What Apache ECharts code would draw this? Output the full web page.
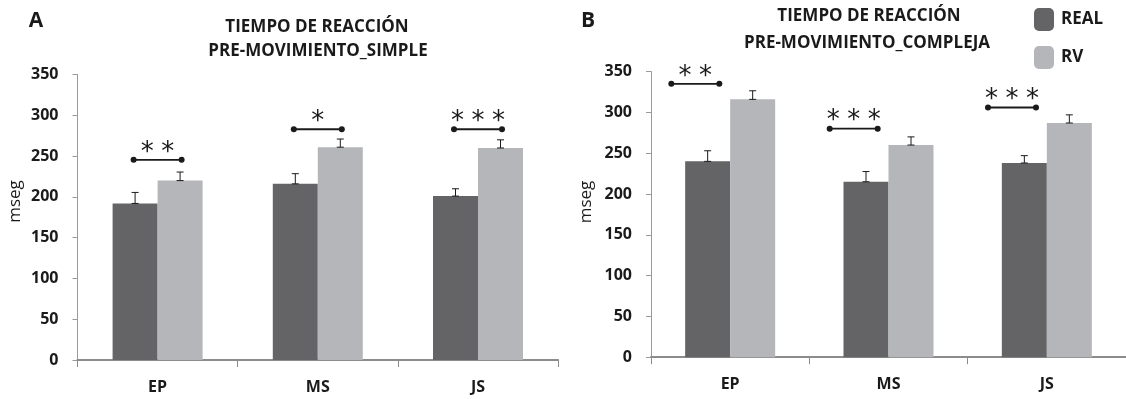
<!DOCTYPE html>
<html>
<head>
<meta charset="utf-8">
<script src="https://cdn.jsdelivr.net/npm/echarts@6/dist/echarts.min.js"></script>
<style>
  html, body { margin: 0; padding: 0; background: #fff; }
  #chart { width: 1126px; height: 399px; }
</style>
</head>
<body>
<div id="chart"></div>
<script>
// Reaction time (mseg), pre-movement phase, real vs virtual reality (RV)
const categories = ['EP', 'MS', 'JS'];

// Panel A: simple task
const simpleReal = [192, 216, 201];
const simpleRealErr = [13.5, 12.5, 9];
const simpleRV = [220, 261, 260];
const simpleRVErr = [10.5, 10, 10];
const simpleSigLevel = [245.5, 283, 283];
const simpleSigStars = [2, 1, 3];

// Panel B: complex task
const complexReal = [240, 215, 238];
const complexRealErr = [13, 12.5, 9];
const complexRV = [316, 260, 287];
const complexRVErr = [10.5, 10, 10];
const complexSigLevel = [335, 280, 306];
const complexSigStars = [2, 3, 3];

const yTicks = { min: 0, max: 350, interval: 50 };

const DARK = '#646366';
const LIGHT = '#b5b6b9';
const INK = '#1a1a1a';
const AXIS = '#8c8c8c';
const FONT = '"Open Sans"';
const BAR_W = 45;

const chart = echarts.init(document.getElementById('chart'));

function xAxisFor(idx) {
  return {
    type: 'category', gridIndex: idx, data: categories,
    axisLine: { lineStyle: { color: AXIS, width: 2 } },
    axisTick: { show: true, length: 7, lineStyle: { color: AXIS, width: 1 } },
    axisLabel: { margin: 19, color: INK, fontFamily: FONT, fontWeight: 'bold', fontSize: 16 }
  };
}
function yAxisFor(idx) {
  return {
    type: 'value', gridIndex: idx, min: yTicks.min, max: yTicks.max, interval: yTicks.interval,
    axisLine: { show: true, lineStyle: { color: '#9a9a9a', width: 1 } },
    axisTick: { show: true, length: 5, lineStyle: { color: '#9a9a9a', width: 1 } },
    splitLine: { show: false },
    axisLabel: { margin: 19, color: INK, fontFamily: FONT, fontWeight: 'bold', fontSize: 16 }
  };
}

// upward-only error bar drawn at the centre of a bar (side -1 = left bar, +1 = right bar)
function errorBars(values, errs, side, idx) {
  return {
    type: 'custom', xAxisIndex: idx, yAxisIndex: idx, z: 5, clip: false,
    silent: true, tooltip: { show: false },
    data: values.map((v, i) => [i, v, errs[i]]),
    renderItem(params, api) {
      const base = api.coord([api.value(0), api.value(1)]);
      const top = api.coord([api.value(0), api.value(1) + api.value(2)]);
      const x = base[0] + side * BAR_W / 2;
      const st = { stroke: INK, lineWidth: 1 };
      return {
        type: 'group',
        children: [
          { type: 'line', shape: { x1: x, y1: base[1], x2: x, y2: top[1] }, style: st },
          { type: 'line', shape: { x1: x - 3.5, y1: top[1], x2: x + 3.5, y2: top[1] }, style: st },
          { type: 'line', shape: { x1: x - 3.5, y1: base[1], x2: x + 3.5, y2: base[1] }, style: st }
        ]
      };
    }
  };
}

// significance bracket: dotted-end line with asterisks above it
function sigBrackets(levels, stars, shiftFrac, idx) {
  return {
    type: 'custom', xAxisIndex: idx, yAxisIndex: idx, z: 6, clip: false,
    silent: true, tooltip: { show: false },
    data: levels.map((v, i) => [i, v, stars[i]]),
    renderItem(params, api) {
      const p = api.coord([api.value(0), api.value(1)]);
      const w = api.size([1, 0])[0];
      const cx = p[0] + shiftFrac * w;
      const y = p[1];
      const n = api.value(2);
      const kids = [
        { type: 'line', shape: { x1: cx - 24, y1: y, x2: cx + 24, y2: y }, style: { stroke: INK, lineWidth: 1.8 } },
        { type: 'circle', shape: { cx: cx - 24, cy: y, r: 3 }, style: { fill: INK } },
        { type: 'circle', shape: { cx: cx + 24, cy: y, r: 3 }, style: { fill: INK } }
      ];
      for (let k = 0; k < n; k++) {
        kids.push({
          type: 'text', x: cx + (k - (n - 1) / 2) * 20.5, y: y - 7,
          style: { text: '*', fill: INK, font: '26px "DejaVu Sans"', align: 'center', verticalAlign: 'middle' }
        });
      }
      return { type: 'group', children: kids };
    }
  };
}

function bars(name, values, color, idx) {
  return {
    name, type: 'bar', xAxisIndex: idx, yAxisIndex: idx,
    data: values, barWidth: BAR_W, barGap: '0%',
    itemStyle: { color }, z: 2
  };
}

function label(text, x, y, font, rot) {
  return {
    type: 'text', x, y, rotation: rot || 0,
    style: { text, fill: INK, font, align: 'center', verticalAlign: 'middle' }
  };
}

chart.setOption({
  animation: false,
  backgroundColor: '#ffffff',
  grid: [
    { left: 77.5, top: 74.6, width: 480.6, height: 285.4 },
    { left: 651, top: 71.6, width: 480, height: 285.6 }
  ],
  xAxis: [xAxisFor(0), xAxisFor(1)],
  yAxis: [yAxisFor(0), yAxisFor(1)],
  legend: {
    data: ['REAL', 'RV'], orient: 'vertical', left: 1029, top: 3,
    icon: 'roundRect', itemWidth: 20, itemHeight: 23, itemGap: 15,
    textStyle: { color: INK, fontFamily: FONT, fontWeight: 'bold', fontSize: 17, padding: [0, 0, 0, 2] }
  },
  graphic: [
    label('A', 36, 21, 'bold 21px ' + FONT),
    label('B', 588, 21, 'bold 21px ' + FONT),
    label('TIEMPO DE REACCIÓN', 317, 27, 'bold 17px ' + FONT),
    label('PRE-MOVIMIENTO_SIMPLE', 318, 51.5, 'bold 17px ' + FONT),
    label('TIEMPO DE REACCIÓN', 869, 16.5, 'bold 17px ' + FONT),
    label('PRE-MOVIMIENTO_COMPLEJA', 867, 43.5, 'bold 17px ' + FONT),
    label('mseg', 15, 201.5, '17px ' + FONT, Math.PI / 2),
    label('mseg', 586, 202, '17px ' + FONT, Math.PI / 2)
  ],
  series: [
    bars('REAL', simpleReal, DARK, 0),
    bars('RV', simpleRV, LIGHT, 0),
    errorBars(simpleReal, simpleRealErr, -1, 0),
    errorBars(simpleRV, simpleRVErr, 1, 0),
    sigBrackets(simpleSigLevel, simpleSigStars, 0, 0),
    bars('REAL', complexReal, DARK, 1),
    bars('RV', complexRV, LIGHT, 1),
    errorBars(complexReal, complexRealErr, -1, 1),
    errorBars(complexRV, complexRVErr, 1, 1),
    sigBrackets(complexSigLevel, complexSigStars, -0.22, 1)
  ]
});
</script>
</body>
</html>
